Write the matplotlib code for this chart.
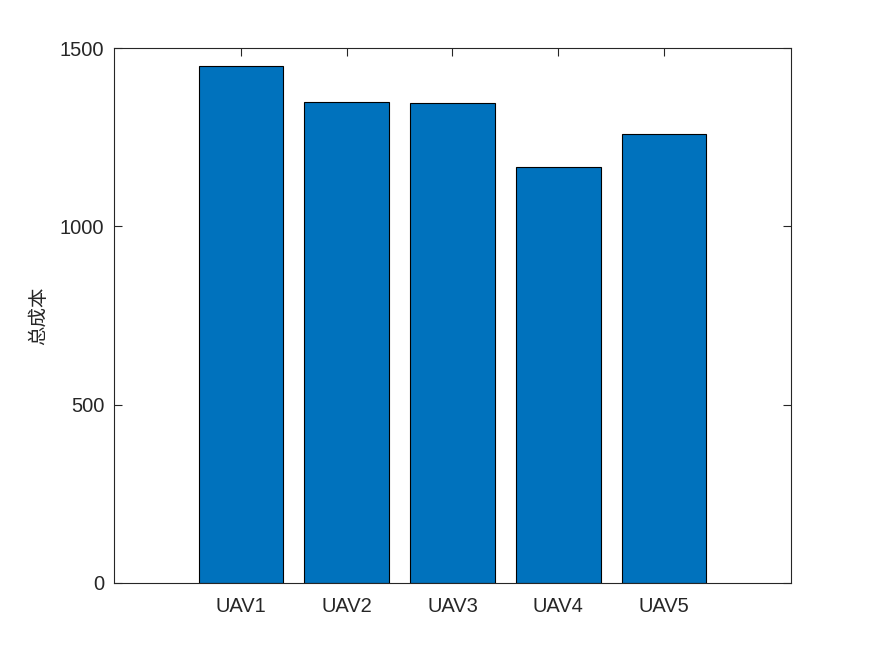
import matplotlib
matplotlib.use("Agg")
import matplotlib.pyplot as plt

categories = ["UAV1", "UAV2", "UAV3", "UAV4", "UAV5"]
values = [1449, 1348, 1345, 1166, 1258]
yticks = [0, 500, 1000, 1500]

fig = plt.figure(figsize=(8.75, 6.56), dpi=100)
ax = fig.add_axes([114/875, 73/656, 677/875, 535/656])
x = list(range(1, len(categories) + 1))
ax.bar(x, values, width=0.8, color="#0072BD", edgecolor="black", linewidth=0.8, zorder=2)
ax.set_xlim(-0.2, 6.2)
ax.set_ylim(0, 1500)
ax.set_xticks(x)
ax.set_xticklabels(categories, family=["Liberation Sans", "DejaVu Sans"], fontsize=14.5, color="#262626")
ax.set_yticks(yticks)
ax.set_yticklabels([str(v) for v in yticks], family=["Liberation Sans", "DejaVu Sans"], fontsize=14.5, color="#262626")
ax.tick_params(direction="in", length=6, width=0.8, top=True, right=True, color="#262626")
ax.tick_params(axis="y", pad=7)
ax.tick_params(axis="x", pad=10)
for s in ax.spines.values():
    s.set_color("#262626")
    s.set_linewidth(0.8)
ax.set_ylabel("总成本", family=["Noto Sans CJK SC", "DejaVu Sans"], fontsize=14, color="#262626", labelpad=8)
fig.savefig("out.png", dpi=100)
